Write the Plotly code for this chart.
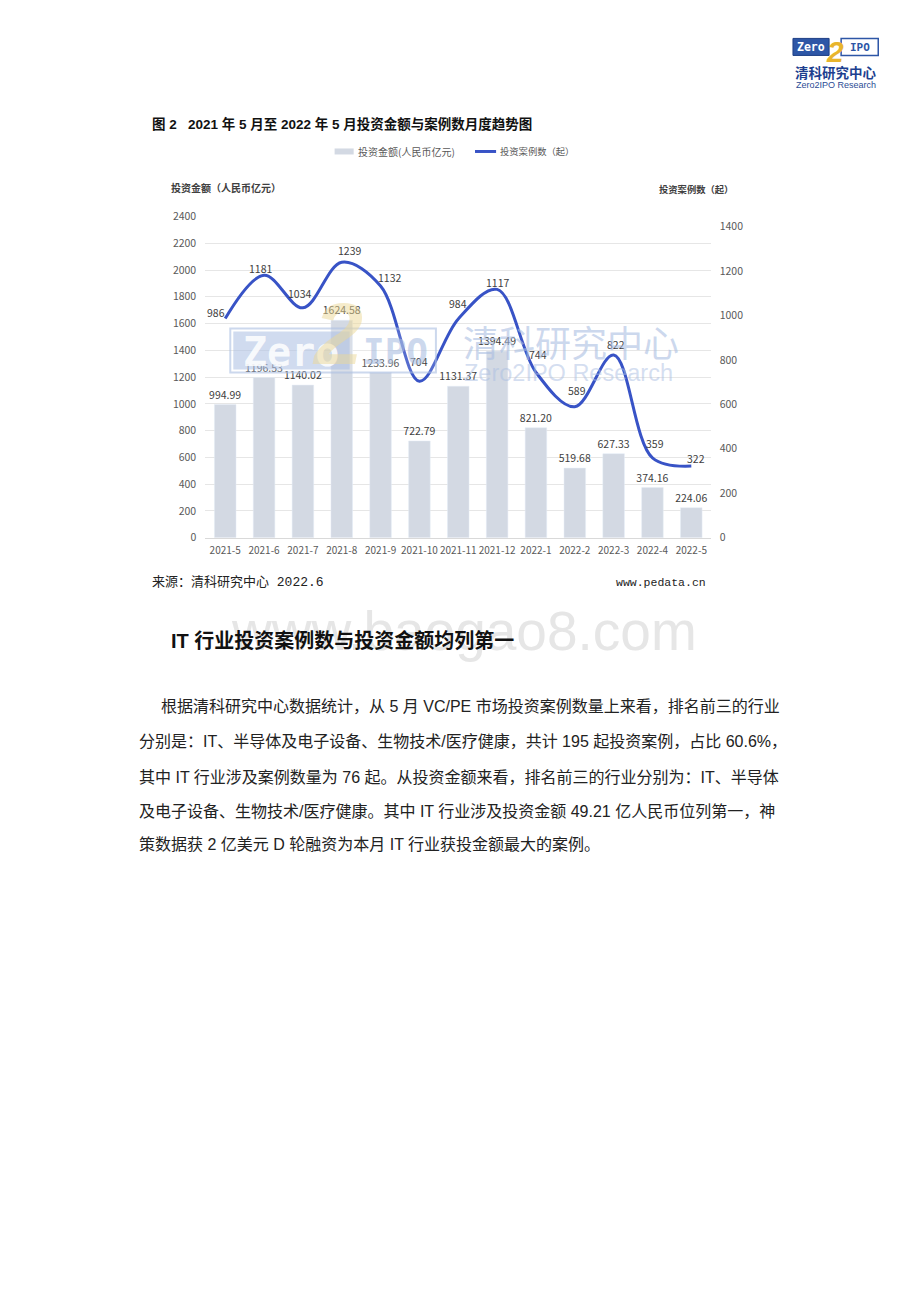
import plotly.graph_objects as go

# ---------------- data ----------------
months = ["2021-5", "2021-6", "2021-7", "2021-8", "2021-9", "2021-10", "2021-11",
          "2021-12", "2022-1", "2022-2", "2022-3", "2022-4", "2022-5"]
amount = [994.99, 1196.53, 1140.02, 1624.58, 1233.96, 722.79, 1131.37,
          1394.49, 821.20, 519.68, 627.33, 374.16, 224.06]
cases = [986, 1181, 1034, 1239, 1132, 704, 984, 1117, 744, 589, 822, 359, 322]
left_ticks = list(range(0, 2401, 200))
right_ticks = list(range(0, 1401, 200))

W, H = 920, 1302
# empirical page calibration
def px(x): return ((x - 3.4) / 0.997) / W
def py(y): return 1 - ((y - 7.6) / 0.988) / H

CJK = "Noto Sans CJK SC"
SANS = "Liberation Sans, Noto Sans CJK SC"
BAR_C = "#d3d9e3"
LINE_C = "#3853c6"

fig = go.Figure()
fig.add_trace(go.Bar(
    x=months, y=amount, marker_color=BAR_C, yaxis="y",
    text=[f"{v:.2f}" for v in amount], textposition="outside", constraintext="none",
    textfont=dict(family=CJK, size=10.5, color="#404040"),
    cliponaxis=False, hoverinfo="skip"))
fig.add_trace(go.Scatter(
    x=months, y=cases, yaxis="y2", mode="lines",
    line=dict(color=LINE_C, width=3, shape="spline", smoothing=1.0),
    cliponaxis=False, hoverinfo="skip"))

fig.update_layout(
    width=W, height=H, margin=dict(l=0, r=0, t=0, b=0),
    paper_bgcolor="white", plot_bgcolor="white", showlegend=False,
    bargap=0.445,
    xaxis=dict(domain=[px(208), px(712)], type="category", tickangle=0,
               tickfont=dict(family=CJK, size=10, color="#595959"),
               showgrid=False, showline=True, linecolor="#d9d9d9", linewidth=1,
               ticks="", ticklabelstandoff=3),
    yaxis=dict(domain=[py(537), py(216)], range=[0, 2400],
               tickvals=left_ticks, tickfont=dict(family=CJK, size=10.5, color="#595959"),
               showgrid=True, gridcolor="#e6e6e6", gridwidth=1, zeroline=False,
               ticks="", ticklabelstandoff=8),
    yaxis2=dict(overlaying="y", side="right", range=[0, 1445],
                tickvals=right_ticks, tickfont=dict(family=CJK, size=10.5, color="#595959"),
                showgrid=False, zeroline=False, ticks="", ticklabelstandoff=8),
)

shapes = []
ann = []

def text(x, y, s, size, color="#000", family=SANS, xanchor="left", yanchor="middle"):
    ann.append(dict(x=px(x), y=py(y), xref="paper", yref="paper", text=s,
                    showarrow=False, xanchor=xanchor, yanchor=yanchor,
                    font=dict(family=family, size=size, color=color)))

# line data labels (offsets in px relative to each point)
lab_dx = [-9, -4, -3, 8, 9, 0, 0, 0, 2, 2, 2, 3, 5]
lab_dy = [6, 7, 14, 12, 9, 20, 15, 7, 18, 16, 10, 14, 8]
for m, c, dx, dy in zip(months, cases, lab_dx, lab_dy):
    ann.append(dict(x=m, y=c, xref="x", yref="y2", text=str(c), showarrow=False,
                    xshift=dx, yshift=dy, xanchor="center", yanchor="middle",
                    font=dict(family=CJK, size=10.5, color="#404040")))

# ---------- chart watermark ----------
shapes.append(dict(type="rect", xref="paper", yref="paper", x0=px(233), x1=px(438),
                   y0=py(372), y1=py(328), line=dict(color="rgba(170,190,225,0.6)", width=2),
                   fillcolor="rgba(255,255,255,0.15)", layer="above"))
shapes.append(dict(type="rect", xref="paper", yref="paper", x0=px(236), x1=px(352),
                   y0=py(369), y1=py(331), line=dict(width=0),
                   fillcolor="rgba(170,190,225,0.55)", layer="above"))
text(294, 351, "<b>Zero</b>", 40, "rgba(255,255,255,0.85)", "DejaVu Sans Mono", "center")
text(340, 333, "<b><i>2</i></b>", 88, "rgba(235,215,150,0.5)", SANS, "center")
text(398, 351, "<b>IPO</b>", 36, "rgba(170,190,225,0.6)", "DejaVu Sans Mono", "center")
text(463, 340, "清科研究中心", 36, "rgba(170,190,226,0.6)", CJK)
text(464, 372, "Zero2IPO Research", 23.5, "rgba(170,190,226,0.5)", SANS)

# ---------- page watermark ----------
text(700, 630, "www.baogao8.com", 55, "#e6e6e6", SANS, "right")

# ---------- logo ----------
shapes.append(dict(type="rect", xref="paper", yref="paper", x0=px(794), x1=px(830),
                   y0=py(55), y1=py(38), line=dict(color="#1e3f85", width=1),
                   fillcolor="#2d56a6", layer="above"))
shapes.append(dict(type="rect", xref="paper", yref="paper", x0=px(842), x1=px(879),
                   y0=py(55), y1=py(38), line=dict(color="#2d56a6", width=1.5),
                   fillcolor="white", layer="above"))
text(812, 47, "<b>Zero</b>", 11.5, "white", "DejaVu Sans Mono", "center")
text(836, 51, "<b><i>2</i></b>", 30, "#e8b52c", SANS, "center")
text(861, 47, "<b>IPO</b>", 11, "#2d56a6", "DejaVu Sans Mono", "center")
text(837, 72, "<b>清科研究中心</b>", 13.5, "#1d3f8f", CJK, "center")
text(837, 85, "Zero2IPO Research", 9, "#2c4c95", SANS, "center")

# ---------- title, legend, axis titles ----------
text(153, 124, "<b>图 2   2021 年 5 月至 2022 年 5 月投资金额与案例数月度趋势图</b>", 13.5, "#111")
shapes.append(dict(type="rect", xref="paper", yref="paper", x0=px(337), x1=px(356),
                   y0=py(154), y1=py(148), line=dict(width=0), fillcolor=BAR_C, layer="above"))
shapes.append(dict(type="line", xref="paper", yref="paper", x0=px(477), x1=px(498),
                   y0=py(151), y1=py(151), line=dict(color=LINE_C, width=3), layer="above"))
text(358, 151, "投资金额(人民币亿元)", 10, "#595959", CJK)
text(500, 151, "投资案例数（起）", 9.3, "#595959", CJK)
text(172, 187, "<b>投资金额（人民币亿元）</b>", 10, "#404040", CJK)
text(736, 189, "<b>投资案例数（起）</b>", 9.3, "#404040", CJK, "right")

# ---------- source line ----------
text(153, 582, "来源：清科研究中心 2022.6", 13, "#222", "Liberation Mono, Noto Sans CJK SC")
text(709, 582, "www.pedata.cn", 11.5, "#222", "Liberation Mono", "right")

# ---------- heading & paragraph ----------
text(172, 640, "<b>IT 行业投资案例数与投资金额均列第一</b>", 20, "#111")
para = [
    (162, 706, "根据清科研究中心数据统计，从 5 月 VC/PE 市场投资案例数量上来看，排名前三的行业"),
    (140, 741, "分别是：IT、半导体及电子设备、生物技术/医疗健康，共计 195 起投资案例，占比 60.6%，"),
    (140, 777, "其中 IT 行业涉及案例数量为 76 起。从投资金额来看，排名前三的行业分别为：IT、半导体"),
    (140, 811, "及电子设备、生物技术/医疗健康。其中 IT 行业涉及投资金额 49.21 亿人民币位列第一，神"),
    (140, 844, "策数据获 2 亿美元 D 轮融资为本月 IT 行业获投金额最大的案例。"),
]
for x, y, s in para:
    text(x, y, s, 16, "#222")

fig.update_layout(shapes=shapes, annotations=ann)
fig.write_html("out.html", config={"displayModeBar": False},
               post_script="document.body.style.margin='0';document.body.style.overflow='hidden';")
